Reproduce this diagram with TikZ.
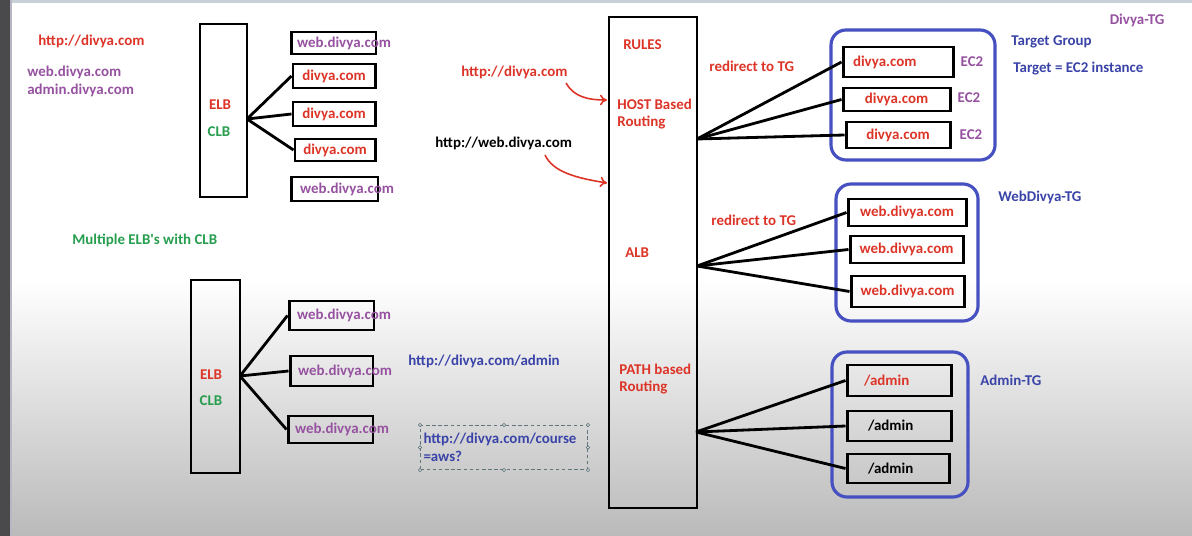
\documentclass[tikz,border=0pt]{standalone}
\usepackage{fontspec}
\setmainfont{Carlito}
\usetikzlibrary{arrows.meta}

\newcommand{\ppx}{0.02cm}
\definecolor{rtxt}{RGB}{221,52,40}
\definecolor{ptxt}{RGB}{150,82,160}
\definecolor{gtxt}{RGB}{38,158,78}
\definecolor{btxt}{RGB}{58,68,168}
\definecolor{grpblue}{RGB}{70,80,192}
\definecolor{dashc}{RGB}{95,118,122}
\definecolor{bgg}{RGB}{186,186,186}
\definecolor{dgray}{RGB}{74,74,76}
\definecolor{edgec}{RGB}{182,182,198}
\definecolor{topc}{RGB}{200,207,214}

\tikzset{
  every node/.style={font=\bfseries\fontsize{8.5}{10.2}\selectfont, inner sep=0pt},
  tbox/.style={draw, line width=1.7pt},
  grp/.style={draw=grpblue, line width=1.8pt, rounded corners=0.3cm},
  lnk/.style={line width=1.6pt},
  redarr/.style={draw=rtxt, line width=0.9pt, -{To[length=4pt,width=6pt]}}
}

\begin{document}
\begin{tikzpicture}[x=0.02cm, y=-0.02cm]
\useasboundingbox (0,0) rectangle (1192,536);

% screen background
\fill[white] (0,0) rectangle (1192,536);
\shade[top color=white, bottom color=bgg] (0,280) rectangle (1192,536);
\fill[topc] (10,0) rectangle (1192,3);
\fill[dgray] (0,0) rectangle (10,536);
\fill[edgec] (10,0) rectangle (12,536);

% left notes
\node[text=rtxt, anchor=west] (urlA) at (38,41) {http://divya.com};
\node[text=ptxt, anchor=west, align=left] (hostsA) at (27,81) {web.divya.com\\admin.divya.com};
\node[text=gtxt, anchor=west] (multi) at (72,240) {Multiple ELB\textquotesingle s with CLB};

% first CLB
\node[tbox, line width=1.5pt, minimum width=47*\ppx, minimum height=173*\ppx] (elbA) at (223.5,110.5) {};
\node[text=rtxt] (elbAt) at (220,105) {ELB};
\node[text=gtxt] (clbAt) at (219,132) {CLB};
\coordinate (hubA) at (247,119);

\node[tbox, text=ptxt, minimum height=22*\ppx, inner xsep=6*\ppx, text width=1.46cm, align=left] (webA1) at (333.5,43) {web.divya.com};
\node[tbox, text=rtxt, minimum width=82*\ppx, minimum height=24*\ppx] (divA1) at (334,76) {divya.com};
\node[tbox, text=rtxt, minimum width=82*\ppx, minimum height=24*\ppx] (divA2) at (334,114) {divya.com};
\node[tbox, text=rtxt, minimum width=80*\ppx, minimum height=22*\ppx] (divA3) at (335,150) {divya.com};
\node[tbox, text=ptxt, minimum height=24*\ppx, inner xsep=9*\ppx, text width=1.38cm, align=left] (webA2) at (334.5,189) {web.divya.com};

\foreach \b in {divA1,divA2,divA3}
  \draw[lnk] (hubA) -- (\b.west);

% second CLB
\node[tbox, line width=1.5pt, minimum width=49*\ppx, minimum height=193*\ppx] (elbB) at (215.5,376.5) {};
\node[text=rtxt] (elbBt) at (211,375) {ELB};
\node[text=gtxt] (clbBt) at (211,401) {CLB};
\coordinate (hubB) at (240,376);

\node[tbox, text=ptxt, minimum height=29*\ppx, inner xsep=8*\ppx, text width=1.38cm, align=left] (webB1) at (331.5,315.5) {web.divya.com};
\node[tbox, text=ptxt, minimum height=30*\ppx, inner xsep=8*\ppx, text width=1.34cm, align=left] (webB2) at (331.5,371) {web.divya.com};
\node[tbox, text=ptxt, minimum height=27*\ppx, inner xsep=7*\ppx, text width=1.42cm, align=left] (webB3) at (330.5,429.5) {web.divya.com};

\foreach \b in {webB1,webB2,webB3}
  \draw[lnk] (hubB) -- (\b.west);

% path examples
\node[text=btxt, anchor=west] (adminurl) at (408,361) {http://divya.com/admin};
\node[draw=dashc, dash pattern=on 2pt off 1.5pt, line width=0.6pt, anchor=north west,
      minimum height=44*\ppx, text width=3.22cm, inner xsep=3*\ppx, align=left, text=btxt]
      (course) at (420,425) {http://divya.com/course\\=aws?};
\foreach \a in {north west,north,north east,east,south east,south,south west,west}
  \draw[dashc, fill=white, line width=0.4pt] (course.\a) circle (1.6*\ppx);

% ALB
\node[tbox, line width=1.4pt, minimum width=88*\ppx, minimum height=491*\ppx] (alb) at (653,262.5) {};
\node[text=rtxt, anchor=west] (rules) at (623,45) {RULES};
\node[text=rtxt, anchor=west, align=left] (hostrt) at (617,114) {HOST Based\\Routing};
\node[text=rtxt, anchor=west] (albt) at (625,253) {ALB};
\node[text=rtxt, anchor=west, align=left] (pathrt) at (619,379) {PATH based\\Routing};
\coordinate (hub1) at (697,139);
\coordinate (hub2) at (697,266);
\coordinate (hub3) at (696,432);

\node[text=rtxt, anchor=west] (urlB) at (461,72) {http://divya.com};
\node[anchor=west] (urlC) at (435,143) {http://web.divya.com};
\coordinate (arr1s) at (566,83);
\coordinate (arr1e) at (607,100);
\coordinate (arr2s) at (545,155);
\coordinate (arr2e) at (607,183);
\draw[redarr] (arr1s) .. controls (574,97) and (588,100) .. (arr1e);
\draw[redarr] (arr2s) .. controls (553,172) and (576,178) .. (arr2e);

\node[text=rtxt, anchor=west] (redir1) at (709,66) {redirect to TG};
\node[text=rtxt, anchor=west] (redir2) at (711,220) {redirect to TG};

% Divya-TG
\node[grp, minimum width=164*\ppx, minimum height=130*\ppx] (tgD) at (913,95) {};
\node[tbox, text=rtxt, minimum height=30*\ppx, inner xsep=10*\ppx, text width=1.8cm, align=left] (tgD1) at (898,62) {divya.com};
\node[tbox, text=rtxt, minimum width=107*\ppx, minimum height=23*\ppx] (tgD2) at (896.5,99.5) {divya.com};
\node[tbox, text=rtxt, minimum width=104*\ppx, minimum height=26*\ppx] (tgD3) at (898,135) {divya.com};
\node[text=ptxt] (ec1) at (972,62) {EC2};
\node[text=ptxt] (ec2) at (969,98) {EC2};
\node[text=ptxt] (ec3) at (971,135) {EC2};
\foreach \b in {tgD1,tgD2,tgD3}
  \draw[lnk] (hub1) -- (\b.west);

\node[text=ptxt] (divtg) at (1137,20) {Divya-TG};
\node[text=btxt, anchor=west] (tgrp) at (1011,42) {Target Group};
\node[text=btxt, anchor=west] (tgt) at (1013,69) {Target = EC2 instance};

% WebDivya-TG
\node[grp, minimum width=142*\ppx, minimum height=137*\ppx] (tgW) at (907,252.5) {};
\node[tbox, text=rtxt, minimum width=118*\ppx, minimum height=27*\ppx] (tgW1) at (907,212.5) {web.divya.com};
\node[tbox, text=rtxt, minimum width=113*\ppx, minimum height=27*\ppx] (tgW2) at (906.5,249.5) {web.divya.com};
\node[tbox, text=rtxt, minimum width=113*\ppx, minimum height=31*\ppx] (tgW3) at (907.5,291.5) {web.divya.com};
\foreach \b in {tgW1,tgW2,tgW3}
  \draw[lnk] (hub2) -- (\b.west);
\node[text=btxt, anchor=west] (webtg) at (998,197) {WebDivya-TG};

% Admin-TG
\node[grp, minimum width=136*\ppx, minimum height=145*\ppx] (tgA) at (900,424.5) {};
\node[tbox, text=rtxt, minimum height=31*\ppx, inner xsep=17*\ppx, text width=1.4cm, align=left] (tgA1) at (899,380.5) {/admin};
\node[tbox, minimum height=30*\ppx, inner xsep=21*\ppx, text width=1.24cm, align=left] (tgA2) at (899,426) {/admin};
\node[tbox, minimum height=29*\ppx, inner xsep=21*\ppx, text width=1.2cm, align=left] (tgA3) at (898,468.5) {/admin};
\foreach \b in {tgA1,tgA2,tgA3}
  \draw[lnk] (hub3) -- (\b.west);
\node[text=btxt, anchor=west] (admtg) at (980,380) {Admin-TG};

\end{tikzpicture}
\end{document}
